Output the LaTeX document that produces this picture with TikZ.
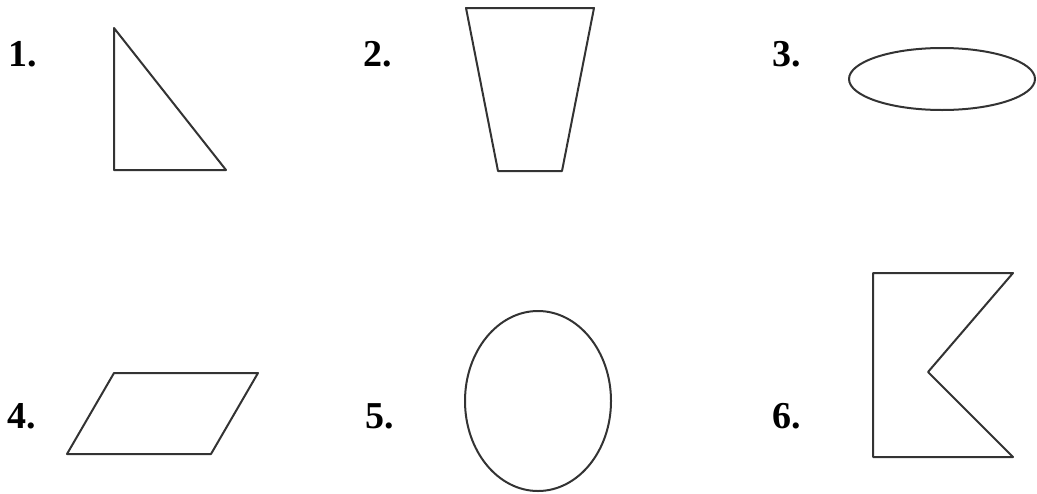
\documentclass[tikz,border=0pt]{standalone}
\usepackage{fontspec}
\setmainfont{Liberation Serif}

\begin{document}
\begin{tikzpicture}[x=0.5pt, y=-0.5pt, line join=round,
    num/.style={font=\fontsize{19}{19}\selectfont\bfseries, inner sep=0pt},
    outline/.style={draw=black!80, line width=1pt}]
        \useasboundingbox (0,0) rectangle (1037,493);

        \node[num] (n1) at (23,54) {1.};
        \node[num] (n2) at (378,54) {2.};
        \node[num] (n3) at (787,54) {3.};
        \node[num] (n4) at (22,416) {4.};
        \node[num] (n5) at (380,416) {5.};
        \node[num] (n6) at (787,416) {6.};

        % top row
        \draw[outline] (114,28) -- (114,170) -- (226,170) -- cycle;
        \draw[outline] (466,8) -- (594,8) -- (562,171) -- (498,171) -- cycle;
        \draw[outline] (942,79) ellipse [x radius=93, y radius=31];

        % bottom row
        \draw[outline] (114,373) -- (258,373) -- (211,454) -- (67,454) -- cycle;
        \draw[outline] (538,401) ellipse [x radius=73, y radius=90];
        \draw[outline] (873,273) -- (1013,273) -- (928,372) -- (1013,457) -- (873,457) -- cycle;
    \end{tikzpicture}
\end{document}
